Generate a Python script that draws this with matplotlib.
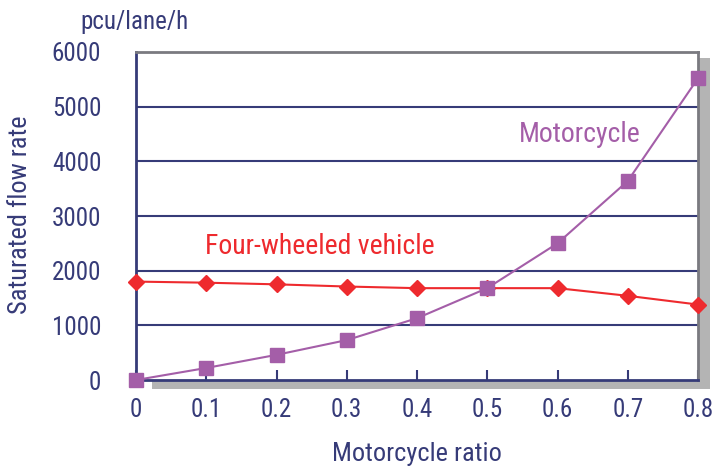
import matplotlib
matplotlib.use("Agg")
import matplotlib.pyplot as plt
from matplotlib.patches import Rectangle

ratio = [0, 0.1, 0.2, 0.3, 0.4, 0.5, 0.6, 0.7, 0.8]
four_wheeled = [1800, 1780, 1750, 1710, 1680, 1680, 1680, 1540, 1380]
motorcycle = [0, 220, 460, 730, 1130, 1680, 2500, 3640, 5520]
yticks = [0, 1000, 2000, 3000, 4000, 5000, 6000]
xticks = [0, 0.1, 0.2, 0.3, 0.4, 0.5, 0.6, 0.7, 0.8]

navy = '#363b78'
red = '#ee2a2e'
purple = '#a45ea8'

plt.rcParams['font.family'] = ['Roboto Condensed', 'Archivo Narrow', 'Liberation Sans Narrow',
                               'Roboto', 'DejaVu Sans']

fig = plt.figure(figsize=(7.12, 4.72), dpi=100)
# drop shadow behind the plot frame
fig.patches.append(Rectangle((152/712, 83/472), 558/712, 331/472,
                             transform=fig.transFigure, facecolor='#b4b4b4',
                             edgecolor='none', zorder=0))
ax = fig.add_axes([136/712, 92/472, 562/712, 328/472])
ax.set_facecolor('white')
ax.set_zorder(1)

ax.plot(ratio, four_wheeled, color=red, lw=1.5, marker='D', ms=8,
        mec=red, mfc=red, clip_on=False, zorder=4)
ax.plot(ratio, motorcycle, color=purple, lw=1.5, marker='s', ms=10,
        mec=purple, mfc=purple, clip_on=False, zorder=4)

ax.set_xlim(0, 0.8)
ax.set_ylim(0, 6000)
ax.set_xticks(xticks)
ax.set_xticklabels(['0'] + ['%.1f' % v for v in xticks[1:]])
ax.set_yticks(yticks)
for y in yticks[1:-1]:
    ax.axhline(y, color=navy, lw=1.5, zorder=2)

for s in ['top', 'right']:
    ax.spines[s].set_color('#7a7a80')
    ax.spines[s].set_linewidth(2)
for s in ['left', 'bottom']:
    ax.spines[s].set_color(navy)
    ax.spines[s].set_linewidth(2)

ax.tick_params(axis='x', direction='in', length=7, width=1.5, color=navy,
               labelsize=18, labelcolor=navy, pad=13)
ax.tick_params(axis='y', length=0, labelsize=18, labelcolor=navy, pad=25)

ax.text(0.632, 4500, 'Motorcycle', color=purple, fontsize=20,
        ha='center', va='center')
ax.text(0.262, 2450, 'Four-wheeled vehicle', color=red, fontsize=20,
        ha='center', va='center')

ax.set_xlabel('Motorcycle ratio', color=navy, fontsize=19, labelpad=14)
fig.text(20/712, 1 - 215/472, 'Saturated flow rate', color=navy, fontsize=19,
         rotation=90, ha='center', va='center')
fig.text(135/712, 1 - 22/472, 'pcu/lane/h', color=navy, fontsize=18,
         ha='center', va='center')

fig.savefig('out.png', dpi=100)
